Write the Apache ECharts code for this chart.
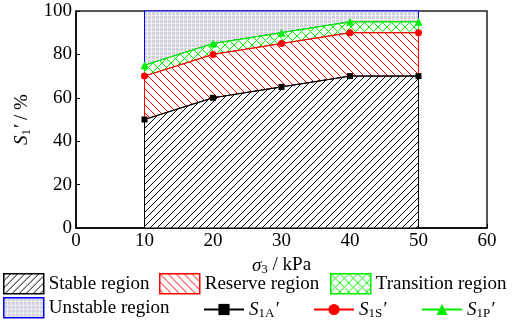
<!DOCTYPE html>
<html>
<head>
<meta charset="utf-8">
<script src="https://cdn.jsdelivr.net/npm/echarts@6/dist/echarts.min.js"></script>
<style>
  html, body { margin: 0; padding: 0; background: #fff; }
  #chart { width: 520px; height: 325px; }
</style>
</head>
<body>
<div id="chart"></div>
<script>
// confining pressure σ3 (kPa)
const sigma3 = [10, 20, 30, 40, 50]
// S1A' / S1S' / S1P' (%)
const s1A = [50, 60, 65, 70, 70]
const s1S = [70, 80, 85, 90, 90]
const s1P = [75, 85, 90, 95, 95]
const bottom = [0, 0, 0, 0, 0]
const top100 = [100, 100, 100, 100, 100]

const font = 'Liberation Serif, Times New Roman, serif'

// hatch patterns
function hatch (color, dir, size) {
  const c = document.createElement('canvas')
  c.width = size
  c.height = size
  const ctx = c.getContext('2d')
  ctx.fillStyle = '#fff'
  ctx.fillRect(0, 0, size, size)
  ctx.strokeStyle = color
  ctx.lineWidth = 1
  const lines = []
  if (dir === '/' || dir === 'x') {
    lines.push([-1, size + 1, size + 1, -1], [-1, 1, 1, -1], [size - 1, size + 1, size + 1, size - 1])
  }
  if (dir === '\\' || dir === 'x') {
    lines.push([-1, -1, size + 1, size + 1], [size - 1, -1, size + 1, 1], [-1, size - 1, 1, size + 1])
  }
  lines.forEach(l => {
    ctx.beginPath()
    ctx.moveTo(l[0], l[1])
    ctx.lineTo(l[2], l[3])
    ctx.stroke()
  })
  return { image: c, repeat: 'repeat' }
}
function grid () {
  const c = document.createElement('canvas')
  c.width = 4
  c.height = 4
  const ctx = c.getContext('2d')
  ctx.fillStyle = '#d2d2dc'
  ctx.fillRect(0, 0, 4, 4)
  ctx.fillStyle = '#f0f0f4'
  ctx.fillRect(3, 0, 1, 4)
  ctx.fillRect(0, 3, 4, 1)
  return { image: c, repeat: 'repeat' }
}

const regions = [
  { name: 'Unstable region', lo: s1P, hi: top100, fill: grid(), stroke: '#0000ff' },
  { name: 'Transition region', lo: s1S, hi: s1P, fill: hatch('#00ee00', 'x', 9), stroke: '#00ee00' },
  { name: 'Reserve region', lo: s1A, hi: s1S, fill: hatch('#ff0000', '\\', 8), stroke: '#ff0000' },
  { name: 'Stable region', lo: bottom, hi: s1A, fill: hatch('#000000', '/', 7), stroke: '#000000' }
]

const seriesArr = []
regions.forEach((r, k) => {
  seriesArr.push({
    name: r.name,
    type: 'custom',
    z: 1 + k,
    silent: true,
    itemStyle: { color: r.fill, borderColor: r.stroke, borderWidth: 1 },
    encode: { x: 0, y: [1, 2] },
    data: sigma3.map((x, i) => [x, r.lo[i], r.hi[i]]),
    renderItem (params, api) {
      if (params.dataIndex !== 0) return
      const pts = []
      sigma3.forEach((x, i) => pts.push(api.coord([x, r.hi[i]])))
      for (let i = sigma3.length - 1; i >= 0; i--) pts.push(api.coord([sigma3[i], r.lo[i]]))
      return {
        type: 'polygon',
        shape: { points: pts },
        style: { fill: r.fill, stroke: r.stroke, lineWidth: 1 }
      }
    }
  })
})

const lineDefs = [
  { name: 'S1A', data: s1A, color: '#000000', symbol: 'rect', size: 6 },
  { name: 'S1S', data: s1S, color: '#ff0000', symbol: 'circle', size: 7 },
  { name: 'S1P', data: s1P, color: '#00ee00', symbol: 'triangle', size: 8 }
]
lineDefs.forEach((l, k) => {
  seriesArr.push({
    name: l.name,
    type: 'line',
    z: 10 + k,
    symbol: l.symbol,
    symbolSize: l.size,
    lineStyle: { color: l.color, width: 1 },
    itemStyle: { color: l.color },
    data: sigma3.map((x, i) => [x, l.data[i]])
  })
})

const rich = {
  i: { fontFamily: font, fontStyle: 'italic', fontSize: 19, color: '#000' },
  s: { fontFamily: font, fontSize: 13, color: '#000', padding: [8, 0, 0, 0] },
  p: { fontFamily: font, fontStyle: 'italic', fontSize: 19, color: '#000' },
  t: { fontFamily: font, fontSize: 19, color: '#000' }
}
const legendLabel = {
  S1A: '{i|S}{s|1A}{p|′}',
  S1S: '{i|S}{s|1S}{p|′}',
  S1P: '{i|S}{s|1P}{p|′}'
}

function legendAt (name, left, top, isRegion) {
  const r = regions.find(x => x.name === name)
  return {
    left: left,
    top: top,
    padding: 0,
    itemWidth: 40,
    itemHeight: isRegion ? 20 : 14,
    selectedMode: false,
    data: [isRegion
      ? { name: name, icon: 'rect', itemStyle: { color: r.fill, borderColor: r.stroke, borderWidth: 1.5 } }
      : { name: name }],
    formatter: n => legendLabel[n] || n,
    textStyle: { fontFamily: font, fontSize: 19, color: '#000', rich: rich }
  }
}

const myChart = echarts.init(document.getElementById('chart'))
const option = {
  animation: false,
  backgroundColor: '#fff',
  grid: {
    left: 76,
    right: 33,
    top: 11,
    bottom: 97,
    show: true,
    borderColor: '#222',
    borderWidth: 1.5
  },
  legend: [
    legendAt('Stable region', 3, 273, true),
    legendAt('Reserve region', 159, 273, true),
    legendAt('Transition region', 330, 273, true),
    legendAt('Unstable region', 3, 297, true),
    legendAt('S1A', 203, 300, false),
    legendAt('S1S', 313, 300, false),
    legendAt('S1P', 421, 300, false)
  ],
  xAxis: {
    type: 'value',
    min: 0,
    max: 60,
    interval: 10,
    name: '{i|σ}{s|3}{t| / kPa}',
    nameLocation: 'middle',
    nameGap: 27,
    nameTextStyle: { rich: rich },
    axisLine: { lineStyle: { color: '#000', width: 1.5 } },
    axisTick: { inside: true, length: 4, lineStyle: { color: '#000' } },
    axisLabel: { fontFamily: font, fontSize: 19, color: '#000', margin: 4 },
    splitLine: { show: false }
  },
  yAxis: {
    type: 'value',
    min: 0,
    max: 100,
    interval: 20,
    name: '{i|S}{s|1}{p|′}{t| / %}',
    nameLocation: 'middle',
    nameGap: 42,
    nameTextStyle: { rich: rich },
    axisLine: { lineStyle: { color: '#000', width: 1.5 } },
    axisTick: { inside: true, length: 4, lineStyle: { color: '#000' } },
    axisLabel: { fontFamily: font, fontSize: 19, color: '#000', margin: 4 },
    splitLine: { show: false }
  },
  series: seriesArr
}
myChart.setOption(option)
window.addEventListener('resize', () => {
  myChart.resize()
})
</script>
</body>
</html>
